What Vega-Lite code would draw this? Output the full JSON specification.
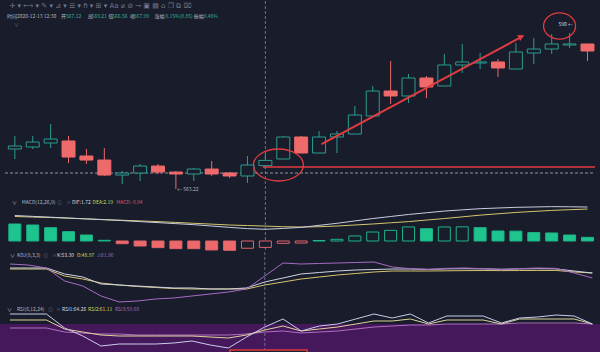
{
"$schema":"https://vega.github.io/schema/vega-lite/v6.json",
"background":"#181c2b",
"padding":0,
"spacing":0,
"bounds":"flush",
"config":{"view":{"stroke":null},"axis":{"minExtent":0,"maxExtent":0,"labels":false,"ticks":false,"domain":false,"grid":true,"gridColor":"#212636","gridWidth":1}},
"resolve":{"scale":{"x":"independent","y":"independent"}},
"datasets":{
"candles":[{"i":0,"o":569.89,"h":572.05,"l":568.22,"c":570.39},
{"i":1,"o":570.22,"h":572.05,"l":569.89,"c":571.05},
{"i":2,"o":570.89,"h":574.05,"l":570.05,"c":571.55},
{"i":3,"o":571.22,"h":572.05,"l":567.55,"c":568.55},
{"i":4,"o":568.72,"h":569.89,"l":567.39,"c":568.05},
{"i":5,"o":568.05,"h":570.05,"l":565.39,"c":565.55},
{"i":6,"o":565.55,"h":566.22,"l":564.05,"c":565.89},
{"i":7,"o":565.89,"h":567.39,"l":564.55,"c":567.05},
{"i":8,"o":567.05,"h":567.39,"l":565.72,"c":566.05},
{"i":9,"o":566.05,"h":566.22,"l":563.22,"c":565.72},
{"i":10,"o":565.72,"h":566.72,"l":564.55,"c":566.55},
{"i":11,"o":566.55,"h":567.89,"l":565.39,"c":565.72},
{"i":12,"o":565.89,"h":566.05,"l":565.05,"c":565.39},
{"i":13,"o":565.39,"h":568.72,"l":564.22,"c":567.22},
{"i":14,"o":567.12,"h":569.21,"l":566.56,"c":567.99},
{"i":15,"o":568.22,"h":572.05,"l":568.22,"c":571.89},
{"i":16,"o":571.89,"h":572.05,"l":569.22,"c":569.22},
{"i":17,"o":569.22,"h":572.89,"l":569.22,"c":571.89},
{"i":18,"o":571.89,"h":572.89,"l":569.22,"c":572.39},
{"i":19,"o":572.39,"h":577.05,"l":572.39,"c":575.55},
{"i":20,"o":575.39,"h":580.39,"l":575.39,"c":579.55},
{"i":21,"o":579.55,"h":584.55,"l":577.39,"c":578.72},
{"i":22,"o":578.72,"h":582.39,"l":577.55,"c":581.72},
{"i":23,"o":581.72,"h":582.05,"l":578.39,"c":580.22},
{"i":24,"o":580.39,"h":585.72,"l":580.39,"c":583.89},
{"i":25,"o":583.89,"h":587.39,"l":582.55,"c":584.39},
{"i":26,"o":584.22,"h":585.89,"l":583.22,"c":584.39},
{"i":27,"o":584.39,"h":584.89,"l":581.89,"c":583.39},
{"i":28,"o":583.22,"h":587.55,"l":583.22,"c":586.05},
{"i":29,"o":585.89,"h":588.39,"l":584.05,"c":586.55},
{"i":30,"o":586.55,"h":589.05,"l":585.72,"c":587.39},
{"i":31,"o":587.22,"h":589.22,"l":586.72,"c":587.39},
{"i":32,"o":587.39,"h":587.39,"l":584.55,"c":586.22}],
"macd":[{"i":0,"m":2.5,"f":1,"dif":3.75,"dea":3.6},
{"i":1,"m":2.35,"f":1,"dif":3.62,"dea":3.52},
{"i":2,"m":1.96,"f":1,"dif":3.5,"dea":3.45},
{"i":3,"m":1.37,"f":1,"dif":3.38,"dea":3.35},
{"i":4,"m":0.88,"f":1,"dif":3.25,"dea":3.25},
{"i":5,"m":0.1,"f":1,"dif":3.12,"dea":3.15},
{"i":6,"m":-0.4,"f":1,"dif":3.0,"dea":3.05},
{"i":7,"m":-0.74,"f":1,"dif":2.85,"dea":2.95},
{"i":8,"m":-0.98,"f":1,"dif":2.7,"dea":2.85},
{"i":9,"m":-1.13,"f":1,"dif":2.55,"dea":2.73},
{"i":10,"m":-1.13,"f":1,"dif":2.4,"dea":2.6},
{"i":11,"m":-1.32,"f":1,"dif":2.2,"dea":2.48},
{"i":12,"m":-1.37,"f":1,"dif":2.0,"dea":2.35},
{"i":13,"m":-1.07,"f":0,"dif":1.82,"dea":2.27},
{"i":14,"m":-0.94,"f":0,"dif":1.72,"dea":2.19},
{"i":15,"m":-0.34,"f":0,"dif":1.85,"dea":2.1},
{"i":16,"m":-0.3,"f":0,"dif":2.0,"dea":2.05},
{"i":17,"m":0.07,"f":0,"dif":2.3,"dea":2.1},
{"i":18,"m":0.25,"f":0,"dif":2.6,"dea":2.2},
{"i":19,"m":0.74,"f":0,"dif":2.95,"dea":2.35},
{"i":20,"m":1.32,"f":0,"dif":3.3,"dea":2.5},
{"i":21,"m":1.57,"f":0,"dif":3.6,"dea":2.68},
{"i":22,"m":2.06,"f":0,"dif":3.9,"dea":2.85},
{"i":23,"m":1.81,"f":1,"dif":4.15,"dea":3.08},
{"i":24,"m":2.06,"f":0,"dif":4.4,"dea":3.3},
{"i":25,"m":2.08,"f":0,"dif":4.58,"dea":3.55},
{"i":26,"m":1.96,"f":1,"dif":4.75,"dea":3.8},
{"i":27,"m":1.47,"f":1,"dif":4.85,"dea":4.0},
{"i":28,"m":1.45,"f":1,"dif":4.95,"dea":4.2},
{"i":29,"m":1.23,"f":1,"dif":5.0,"dea":4.35},
{"i":30,"m":1.18,"f":1,"dif":5.05,"dea":4.5},
{"i":31,"m":0.88,"f":1,"dif":5.03,"dea":4.6},
{"i":32,"m":0.54,"f":1,"dif":5.0,"dea":4.7}],
"kdj":[{"i":0,"k":80,"d":77.1,"j":91.4},
{"i":1,"k":80,"d":77.1,"j":88.6},
{"i":2,"k":80,"d":77.1,"j":80},
{"i":3,"k":62.9,"d":57.1,"j":42.9},
{"i":4,"k":54.3,"d":48.6,"j":28.6},
{"i":5,"k":34.3,"d":37.1,"j":0},
{"i":6,"k":31.4,"d":31.4,"j":-17.1},
{"i":7,"k":28.6,"d":27.1,"j":-14.3},
{"i":8,"k":25.7,"d":24.3,"j":-8.6},
{"i":9,"k":22.9,"d":21.4,"j":-5.7},
{"i":10,"k":22.9,"d":20,"j":0},
{"i":11,"k":20,"d":20,"j":5.7},
{"i":12,"k":20,"d":20,"j":11.4},
{"i":13,"k":22.9,"d":20,"j":20},
{"i":14,"k":40,"d":31.4,"j":57.1},
{"i":15,"k":51.4,"d":40,"j":94.3},
{"i":16,"k":62.9,"d":48.6,"j":91.4},
{"i":17,"k":67.1,"d":54.3,"j":92.9},
{"i":18,"k":71.4,"d":60,"j":94.3},
{"i":19,"k":74.3,"d":64.3,"j":95.7},
{"i":20,"k":75.7,"d":68.6,"j":97.1},
{"i":21,"k":77.1,"d":71.4,"j":82.9},
{"i":22,"k":77.1,"d":71.4,"j":78},
{"i":23,"k":76,"d":71.4,"j":76},
{"i":24,"k":77.5,"d":72,"j":79},
{"i":25,"k":78,"d":72.5,"j":80},
{"i":26,"k":77.5,"d":72.8,"j":78},
{"i":27,"k":76.5,"d":72.5,"j":75},
{"i":28,"k":77.5,"d":72.8,"j":78},
{"i":29,"k":78,"d":73,"j":80},
{"i":30,"k":77.5,"d":73,"j":79},
{"i":31,"k":71.4,"d":68.6,"j":65.7},
{"i":32,"k":65.7,"d":65.7,"j":51.4}],
"rsi":[{"i":0,"r1":70,"r2":58,"r3":42},
{"i":1,"r1":70,"r2":58,"r3":42},
{"i":2,"r1":70,"r2":58,"r3":42},
{"i":3,"r1":42,"r2":40,"r3":34},
{"i":4,"r1":26,"r2":34,"r3":32},
{"i":5,"r1":6,"r2":28,"r3":30},
{"i":6,"r1":10,"r2":26,"r3":30},
{"i":7,"r1":10,"r2":26,"r3":28},
{"i":8,"r1":10,"r2":26,"r3":28},
{"i":9,"r1":12,"r2":26,"r3":28},
{"i":10,"r1":16,"r2":26,"r3":28},
{"i":11,"r1":8,"r2":24,"r3":28},
{"i":12,"r1":2,"r2":22,"r3":28},
{"i":13,"r1":24,"r2":28,"r3":30},
{"i":14,"r1":44,"r2":38,"r3":34},
{"i":15,"r1":60,"r2":46,"r3":36},
{"i":16,"r1":36,"r2":36,"r3":32},
{"i":17,"r1":46,"r2":40,"r3":34},
{"i":18,"r1":50,"r2":44,"r3":36},
{"i":19,"r1":60,"r2":50,"r3":40},
{"i":20,"r1":70,"r2":56,"r3":44},
{"i":21,"r1":62,"r2":56,"r3":46},
{"i":22,"r1":70,"r2":60,"r3":48},
{"i":23,"r1":52,"r2":50,"r3":48},
{"i":24,"r1":66,"r2":58,"r3":50},
{"i":25,"r1":66,"r2":58,"r3":50},
{"i":26,"r1":66,"r2":58,"r3":50},
{"i":27,"r1":52,"r2":50,"r3":50},
{"i":28,"r1":62,"r2":60,"r3":52},
{"i":29,"r1":64,"r2":60,"r3":52},
{"i":30,"r1":68,"r2":60,"r3":52},
{"i":31,"r1":66,"r2":60,"r3":52},
{"i":32,"r1":50,"r2":50,"r3":50}],
"notes":[{"name":"dash","i":-0.55,"i2":32.42,"v":565.89},
{"name":"cross","i":14,"v":0},
{"name":"hline","i":13.85,"i2":32.42,"v":566.89},
{"name":"arrow","i":17.14,"v":570.72},
{"name":"arrow","i":28.41,"v":588.72},
{"name":"arrowhead","i":28.3,"v":588.62},
{"name":"ring1","i":14.73,"v":567.22},
{"name":"ring2","i":30.44,"v":590.39},
{"name":"band","i":-0.55,"i2":32.42,"v":50,"v2":-8},
{"name":"box","i":12.09,"i2":16.32,"v":-2,"v2":-8}],
"labels":[{"panel":"main","kind":"icon","i":-0.3,"v":593.72,"txt":"✛ ▾  ⟷ ▾  ✎ ▾  ⊿ ▾  ☰ ▾  ℏ ▾  ⊞ ▾  Aa  ⌀  ⊘  ⊸  ▣  ▤  ⌂  ❐  ⧉  ⌧"},
{"panel":"main","kind":"label","i":-0.44,"v":592.05,"txt":"时间2020-12-13 12:30"},
{"panel":"main","kind":"label","i":2.58,"v":592.05,"txt":"开"},
{"panel":"main","kind":"teal","i":2.86,"v":592.05,"txt":"567.12"},
{"panel":"main","kind":"label","i":4.07,"v":592.05,"txt":"高"},
{"panel":"main","kind":"teal","i":4.29,"v":592.05,"txt":"569.21"},
{"panel":"main","kind":"label","i":5.22,"v":592.05,"txt":"低"},
{"panel":"main","kind":"teal","i":5.44,"v":592.05,"txt":"566.56"},
{"panel":"main","kind":"label","i":6.43,"v":592.05,"txt":"收"},
{"panel":"main","kind":"teal","i":6.65,"v":592.05,"txt":"567.99"},
{"panel":"main","kind":"label","i":7.8,"v":592.05,"txt":"涨幅"},
{"panel":"main","kind":"teal","i":8.41,"v":592.05,"txt":"0.15%(0.85)"},
{"panel":"main","kind":"label","i":10.0,"v":592.05,"txt":"振幅"},
{"panel":"main","kind":"teal","i":10.55,"v":592.05,"txt":"0.48%"},
{"panel":"main","kind":"dim","i":-0.05,"v":590.72,"txt":"∨"},
{"panel":"main","kind":"label","i":9.07,"v":563.22,"txt":"← 563.22"},
{"panel":"main","kind":"white","i":30.38,"v":590.72,"txt":"590 ←"},
{"panel":"macd","kind":"label","i":-0.16,"v":5.74,"txt":"∨"},
{"panel":"macd","kind":"label","i":0.38,"v":5.74,"txt":"MACD(12,26,9)"},
{"panel":"macd","kind":"dim","i":2.36,"v":5.74,"txt":"⊙"},
{"panel":"macd","kind":"dim","i":2.86,"v":5.74,"txt":"×"},
{"panel":"macd","kind":"white","i":3.19,"v":5.74,"txt":"DIF:1.72"},
{"panel":"macd","kind":"yellow","i":4.34,"v":5.74,"txt":"DEA:2.19"},
{"panel":"macd","kind":"red","i":5.66,"v":5.74,"txt":"MACD:-0.94"},
{"panel":"kdj","kind":"label","i":0.0,"v":117.1,"txt":"∨"},
{"panel":"kdj","kind":"label","i":0.38,"v":117.1,"txt":"KDJ(9,3,3)"},
{"panel":"kdj","kind":"dim","i":1.81,"v":117.1,"txt":"⊙"},
{"panel":"kdj","kind":"dim","i":2.31,"v":117.1,"txt":"×"},
{"panel":"kdj","kind":"white","i":2.58,"v":117.1,"txt":"K:53.30"},
{"panel":"kdj","kind":"yellow","i":3.68,"v":117.1,"txt":"D:48.97"},
{"panel":"kdj","kind":"purple","i":4.78,"v":117.1,"txt":"J:61.96"},
{"panel":"rsi","kind":"label","i":-0.16,"v":80,"txt":"∨"},
{"panel":"rsi","kind":"label","i":0.38,"v":80,"txt":"RSI(6,12,24)"},
{"panel":"rsi","kind":"dim","i":2.09,"v":80,"txt":"⊙"},
{"panel":"rsi","kind":"dim","i":2.53,"v":80,"txt":"×"},
{"panel":"rsi","kind":"white","i":2.86,"v":80,"txt":"RSI1:64.26"},
{"panel":"rsi","kind":"yellow","i":4.29,"v":80,"txt":"RSI2:61.11"},
{"panel":"rsi","kind":"purple","i":5.77,"v":80,"txt":"RSI3:59.68"}]
},
"vconcat":[
{"width":600,"height":196,"layer":[
 {"data":{"name":"notes"},"transform":[{"filter":"datum.name=='dash'"}],"mark":{"type":"rule","color":"#9ca1b2","strokeDash":[3,2],"strokeWidth":0.9},
  "encoding":{"x":{"field":"i","type":"quantitative","scale":{"domain":[-0.55,32.42],"nice":false,"zero":false},"axis":null},"x2":{"field":"i2"},
   "y":{"field":"v","type":"quantitative","scale":{"domain":[561.89,594.55],"nice":false,"zero":false},"axis":{"title":null,"values":[577.9]}}}},
 {"data":{"name":"notes"},"transform":[{"filter":"datum.name=='cross'"}],"mark":{"type":"rule","color":"#80869a","strokeDash":[3,2],"strokeWidth":0.8},
  "encoding":{"x":{"field":"i","type":"quantitative","scale":{"domain":[-0.55,32.42],"nice":false,"zero":false},"axis":null}}},
 {"data":{"name":"candles"},"mark":{"type":"rule","strokeWidth":1},
  "encoding":{"x":{"field":"i","type":"quantitative","scale":{"domain":[-0.55,32.42],"nice":false,"zero":false},"axis":null},
   "y":{"field":"l","type":"quantitative","scale":{"domain":[561.89,594.55],"nice":false,"zero":false},"axis":null},"y2":{"field":"h"},
   "color":{"condition":{"test":"datum.c>=datum.o","value":"#2b9d8f"},"value":"#ef6a6a"}}},
 {"data":{"name":"candles"},"mark":{"type":"bar","size":13,"strokeWidth":1},
  "encoding":{"x":{"field":"i","type":"quantitative","scale":{"domain":[-0.55,32.42],"nice":false,"zero":false},"axis":null},
   "y":{"field":"o","type":"quantitative","scale":{"domain":[561.89,594.55],"nice":false,"zero":false},"axis":null},"y2":{"field":"c"},
   "fill":{"condition":{"test":"datum.c>datum.o","value":"#181c2b"},"value":"#ef6a6a"},
   "stroke":{"condition":{"test":"datum.c>=datum.o","value":"#2b9d8f"},"value":"#ef6a6a"}}},
 {"data":{"name":"notes"},"transform":[{"filter":"datum.name=='hline'"}],"mark":{"type":"rule","color":"#e23b40","strokeWidth":1.5},
  "encoding":{"x":{"field":"i","type":"quantitative","scale":{"domain":[-0.55,32.42],"nice":false,"zero":false},"axis":null},"x2":{"field":"i2"},
   "y":{"field":"v","type":"quantitative","scale":{"domain":[561.89,594.55],"nice":false,"zero":false},"axis":null}}},
 {"data":{"name":"notes"},"transform":[{"filter":"datum.name=='arrow'"}],"mark":{"type":"line","color":"#e23b40","strokeWidth":2},
  "encoding":{"x":{"field":"i","type":"quantitative","scale":{"domain":[-0.55,32.42],"nice":false,"zero":false},"axis":null},
   "y":{"field":"v","type":"quantitative","scale":{"domain":[561.89,594.55],"nice":false,"zero":false},"axis":null}}},
 {"data":{"name":"notes"},"transform":[{"filter":"datum.name=='arrowhead'"}],"mark":{"type":"point","shape":"triangle-right","filled":true,"color":"#e23b40","size":45,"angle":-27.8,"opacity":1},
  "encoding":{"x":{"field":"i","type":"quantitative","scale":{"domain":[-0.55,32.42],"nice":false,"zero":false},"axis":null},
   "y":{"field":"v","type":"quantitative","scale":{"domain":[561.89,594.55],"nice":false,"zero":false},"axis":null}}},
 {"data":{"name":"notes"},"transform":[{"filter":"datum.name=='ring1'"}],"mark":{"type":"point","shape":"M-1,0A1,0.64 0 1,1 1,0A1,0.64 0 1,1 -1,0Z","filled":false,"color":"#e23b40","strokeWidth":1.3,"size":2500,"opacity":1},
  "encoding":{"x":{"field":"i","type":"quantitative","scale":{"domain":[-0.55,32.42],"nice":false,"zero":false},"axis":null},
   "y":{"field":"v","type":"quantitative","scale":{"domain":[561.89,594.55],"nice":false,"zero":false},"axis":null}}},
 {"data":{"name":"notes"},"transform":[{"filter":"datum.name=='ring2'"}],"mark":{"type":"point","shape":"M-1,0A1,0.82 0 1,1 1,0A1,0.82 0 1,1 -1,0Z","filled":false,"color":"#e23b40","strokeWidth":1.3,"size":1024,"opacity":1},
  "encoding":{"x":{"field":"i","type":"quantitative","scale":{"domain":[-0.55,32.42],"nice":false,"zero":false},"axis":null},
   "y":{"field":"v","type":"quantitative","scale":{"domain":[561.89,594.55],"nice":false,"zero":false},"axis":null}}},
 {"data":{"name":"labels"},"transform":[{"filter":"datum.panel=='main' && datum.kind!='icon'"}],"mark":{"type":"text","align":"left","baseline":"middle","font":"Noto Sans CJK SC","fontSize":5},
  "encoding":{"x":{"field":"i","type":"quantitative","scale":{"domain":[-0.55,32.42],"nice":false,"zero":false},"axis":null},
   "y":{"field":"v","type":"quantitative","scale":{"domain":[561.89,594.55],"nice":false,"zero":false},"axis":null},
   "text":{"field":"txt"},
   "color":{"condition":[{"test":"datum.kind=='teal'","value":"#35b898"},{"test":"datum.kind=='white'","value":"#d6dae6"},{"test":"datum.kind=='dim'","value":"#6d7385"}],"value":"#b3b8c6"}}},
 {"data":{"name":"labels"},"transform":[{"filter":"datum.kind=='icon'"}],"mark":{"type":"text","align":"left","baseline":"middle","font":"DejaVu Sans","fontSize":7,"color":"#737a8e"},
  "encoding":{"x":{"field":"i","type":"quantitative","scale":{"domain":[-0.55,32.42],"nice":false,"zero":false},"axis":null},
   "y":{"field":"v","type":"quantitative","scale":{"domain":[561.89,594.55],"nice":false,"zero":false},"axis":null},
   "text":{"field":"txt"}}}
]},
{"width":600,"height":55,"layer":[
 {"data":{"name":"notes"},"transform":[{"filter":"datum.name=='cross'"}],"mark":{"type":"rule","color":"#80869a","strokeDash":[3,2],"strokeWidth":0.8},
  "encoding":{"x":{"field":"i","type":"quantitative","scale":{"domain":[-0.55,32.42],"nice":false,"zero":false},"axis":null}}},
 {"data":{"name":"macd"},"mark":{"type":"bar","size":12,"strokeWidth":1},
  "encoding":{"x":{"field":"i","type":"quantitative","scale":{"domain":[-0.55,32.42],"nice":false,"zero":false},"axis":null},
   "y":{"field":"m","type":"quantitative","scale":{"domain":[-1.62,6.47],"nice":false,"zero":false},"axis":{"title":null,"values":[6.2]}},"y2":{"datum":0},
   "fill":{"condition":[{"test":"datum.f==0","value":"#181c2b"},{"test":"datum.m>=0","value":"#1ec48e"}],"value":"#ee6a6a"},
   "stroke":{"condition":{"test":"datum.m>=0","value":"#1fb589"},"value":"#e0646a"}}},
 {"data":{"name":"macd"},"mark":{"type":"line","color":"#d6c56e","strokeWidth":1},
  "encoding":{"x":{"field":"i","type":"quantitative","scale":{"domain":[-0.55,32.42],"nice":false,"zero":false},"axis":null},
   "y":{"field":"dea","type":"quantitative","scale":{"domain":[-1.62,6.47],"nice":false,"zero":false},"axis":null}}},
 {"data":{"name":"macd"},"mark":{"type":"line","color":"#c9cde0","strokeWidth":1},
  "encoding":{"x":{"field":"i","type":"quantitative","scale":{"domain":[-0.55,32.42],"nice":false,"zero":false},"axis":null},
   "y":{"field":"dif","type":"quantitative","scale":{"domain":[-1.62,6.47],"nice":false,"zero":false},"axis":null}}},
 {"data":{"name":"labels"},"transform":[{"filter":"datum.panel=='macd'"}],"mark":{"type":"text","align":"left","baseline":"middle","font":"Noto Sans CJK SC","fontSize":5},
  "encoding":{"x":{"field":"i","type":"quantitative","scale":{"domain":[-0.55,32.42],"nice":false,"zero":false},"axis":null},
   "y":{"field":"v","type":"quantitative","scale":{"domain":[-1.62,6.47],"nice":false,"zero":false},"axis":null},
   "text":{"field":"txt"},
   "color":{"condition":[{"test":"datum.kind=='white'","value":"#d6dae6"},{"test":"datum.kind=='yellow'","value":"#d8d45a"},{"test":"datum.kind=='red'","value":"#d9566a"},{"test":"datum.kind=='dim'","value":"#6d7385"}],"value":"#b3b8c6"}}}
]},
{"width":600,"height":51,"layer":[
 {"data":{"name":"notes"},"transform":[{"filter":"datum.name=='cross'"}],"mark":{"type":"rule","color":"#80869a","strokeDash":[3,2],"strokeWidth":0.8},
  "encoding":{"x":{"field":"i","type":"quantitative","scale":{"domain":[-0.55,32.42],"nice":false,"zero":false},"axis":null}}},
 {"data":{"name":"kdj"},"mark":{"type":"line","color":"#d6c56e","strokeWidth":1},
  "encoding":{"x":{"field":"i","type":"quantitative","scale":{"domain":[-0.55,32.42],"nice":false,"zero":false},"axis":null},
   "y":{"field":"d","type":"quantitative","scale":{"domain":[-20,125.7],"nice":false,"zero":false},"axis":{"title":null,"values":[122,42.9,8.6]}}}},
 {"data":{"name":"kdj"},"mark":{"type":"line","color":"#cfd3e3","strokeWidth":1},
  "encoding":{"x":{"field":"i","type":"quantitative","scale":{"domain":[-0.55,32.42],"nice":false,"zero":false},"axis":null},
   "y":{"field":"k","type":"quantitative","scale":{"domain":[-20,125.7],"nice":false,"zero":false},"axis":null}}},
 {"data":{"name":"kdj"},"mark":{"type":"line","color":"#a86bc4","strokeWidth":1},
  "encoding":{"x":{"field":"i","type":"quantitative","scale":{"domain":[-0.55,32.42],"nice":false,"zero":false},"axis":null},
   "y":{"field":"j","type":"quantitative","scale":{"domain":[-20,125.7],"nice":false,"zero":false},"axis":null}}},
 {"data":{"name":"labels"},"transform":[{"filter":"datum.panel=='kdj'"}],"mark":{"type":"text","align":"left","baseline":"middle","font":"Noto Sans CJK SC","fontSize":5},
  "encoding":{"x":{"field":"i","type":"quantitative","scale":{"domain":[-0.55,32.42],"nice":false,"zero":false},"axis":null},
   "y":{"field":"v","type":"quantitative","scale":{"domain":[-20,125.7],"nice":false,"zero":false},"axis":null},
   "text":{"field":"txt"},
   "color":{"condition":[{"test":"datum.kind=='white'","value":"#d6dae6"},{"test":"datum.kind=='yellow'","value":"#d8d45a"},{"test":"datum.kind=='purple'","value":"#9c6cb4"},{"test":"datum.kind=='dim'","value":"#6d7385"}],"value":"#b3b8c6"}}}
]},
{"width":600,"height":50,"layer":[
 {"data":{"name":"notes"},"transform":[{"filter":"datum.name=='band'"}],"mark":{"type":"rect","color":"#45185c","opacity":1},
  "encoding":{"x":{"field":"i","type":"quantitative","scale":{"domain":[-0.55,32.42],"nice":false,"zero":false},"axis":null},"x2":{"field":"i2"},
   "y":{"field":"v","type":"quantitative","scale":{"domain":[-8,92],"nice":false,"zero":false},"axis":{"title":null,"values":[88]}},"y2":{"field":"v2"}}},
 {"data":{"name":"notes"},"transform":[{"filter":"datum.name=='cross'"}],"mark":{"type":"rule","color":"#80869a","strokeDash":[3,2],"strokeWidth":0.8},
  "encoding":{"x":{"field":"i","type":"quantitative","scale":{"domain":[-0.55,32.42],"nice":false,"zero":false},"axis":null}}},
 {"data":{"name":"rsi"},"mark":{"type":"line","color":"#b06fc0","strokeWidth":1},
  "encoding":{"x":{"field":"i","type":"quantitative","scale":{"domain":[-0.55,32.42],"nice":false,"zero":false},"axis":null},
   "y":{"field":"r3","type":"quantitative","scale":{"domain":[-8,92],"nice":false,"zero":false},"axis":null}}},
 {"data":{"name":"rsi"},"mark":{"type":"line","color":"#ddd49a","strokeWidth":1},
  "encoding":{"x":{"field":"i","type":"quantitative","scale":{"domain":[-0.55,32.42],"nice":false,"zero":false},"axis":null},
   "y":{"field":"r2","type":"quantitative","scale":{"domain":[-8,92],"nice":false,"zero":false},"axis":null}}},
 {"data":{"name":"rsi"},"mark":{"type":"line","color":"#c8cdea","strokeWidth":1},
  "encoding":{"x":{"field":"i","type":"quantitative","scale":{"domain":[-0.55,32.42],"nice":false,"zero":false},"axis":null},
   "y":{"field":"r1","type":"quantitative","scale":{"domain":[-8,92],"nice":false,"zero":false},"axis":null}}},
 {"data":{"name":"notes"},"transform":[{"filter":"datum.name=='box'"}],"mark":{"type":"rect","fill":"#1c2030","stroke":"#e0383e","strokeWidth":1.5,"clip":true},
  "encoding":{"x":{"field":"i","type":"quantitative","scale":{"domain":[-0.55,32.42],"nice":false,"zero":false},"axis":null},"x2":{"field":"i2"},
   "y":{"field":"v","type":"quantitative","scale":{"domain":[-8,92],"nice":false,"zero":false},"axis":null},"y2":{"field":"v2"}}},
 {"data":{"name":"labels"},"transform":[{"filter":"datum.panel=='rsi'"}],"mark":{"type":"text","align":"left","baseline":"middle","font":"Noto Sans CJK SC","fontSize":5},
  "encoding":{"x":{"field":"i","type":"quantitative","scale":{"domain":[-0.55,32.42],"nice":false,"zero":false},"axis":null},
   "y":{"field":"v","type":"quantitative","scale":{"domain":[-8,92],"nice":false,"zero":false},"axis":null},
   "text":{"field":"txt"},
   "color":{"condition":[{"test":"datum.kind=='white'","value":"#d6dae6"},{"test":"datum.kind=='yellow'","value":"#d8d45a"},{"test":"datum.kind=='purple'","value":"#9c6cb4"},{"test":"datum.kind=='dim'","value":"#6d7385"}],"value":"#b3b8c6"}}}
]}
]
}
